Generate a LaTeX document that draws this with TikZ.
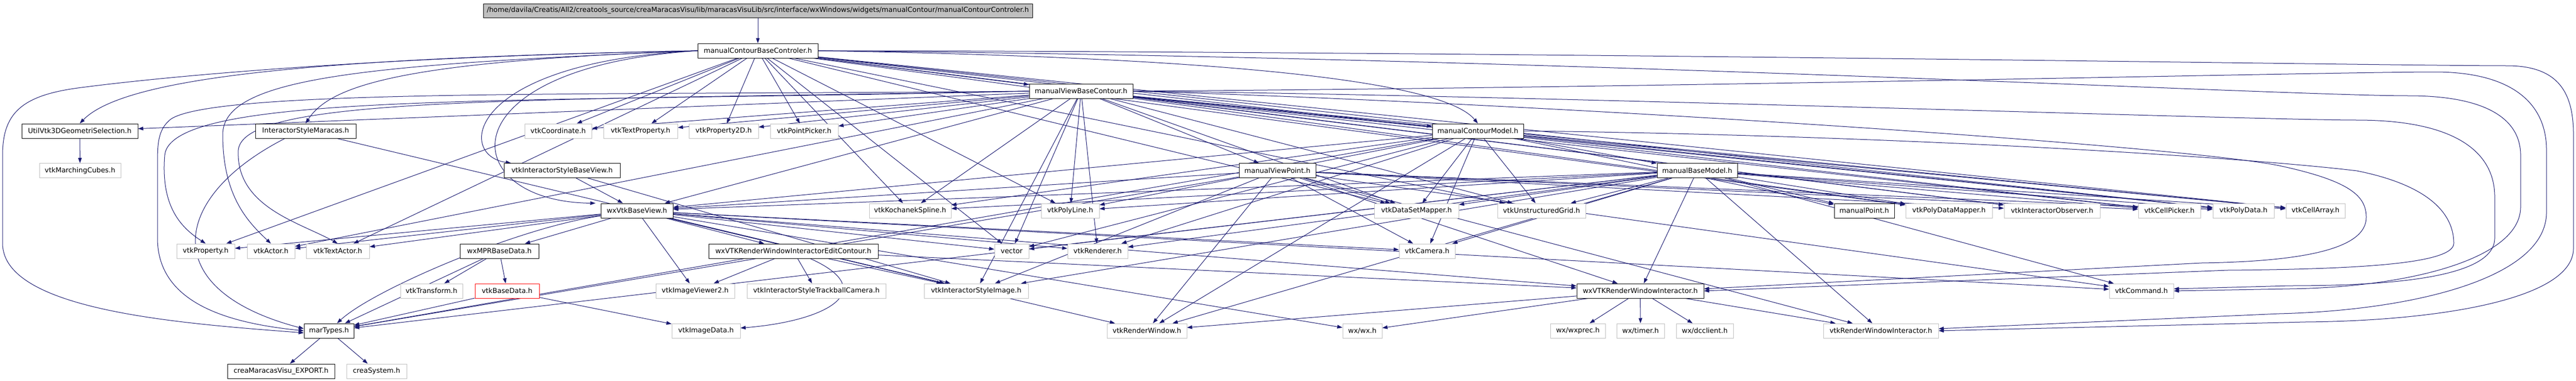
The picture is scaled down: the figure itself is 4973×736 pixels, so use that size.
\documentclass[tikz,border=0pt]{standalone}
\usepackage{fontspec}
\newfontfamily\dejavu{DejaVu Sans}
\usetikzlibrary{arrows.meta,backgrounds}
\definecolor{depblue}{HTML}{191970}
\definecolor{extgray}{HTML}{BFBFBF}
\tikzset{
  hdr/.style={draw=black, line width=1pt, fill=white, minimum height=28pt, inner sep=0pt,
    font=\dejavu\fontsize{13.33pt}{16pt}\selectfont},
  ext/.style={hdr, draw=extgray},
  bad/.style={hdr, draw=red},
  dep/.style={draw=depblue, line width=1pt, -{Triangle[length=10pt,width=7pt]}},
}
\begin{document}
\begin{tikzpicture}[x=1pt, y=-1pt]
    \useasboundingbox (0,0) rectangle (4973,736);

    \node[hdr, fill=extgray, minimum width=1060pt, minimum height=27pt] (title) at (1463,20.5)
      {/home/davila/Creatis/All2/creatools\_source/creaMaracasVisu/lib/maracasVisuLib/src/interface/wxWindows/widgets/manualContour/manualContourControler.h};
    \node[hdr, minimum width=232pt] (basectrl) at (1463,98) {manualContourBaseControler.h};
    \node[hdr, minimum width=200pt] (viewbase) at (2087,176) {manualViewBaseContour.h};

    \node[hdr, minimum width=224pt] (utilsel) at (154,253) {UtilVtk3DGeometriSelection.h};
    \node[hdr, minimum width=194pt] (stylemaracas) at (590,253) {InteractorStyleMaracas.h};
    \node[ext, minimum width=129pt] (coordinate) at (1077.5,253) {vtkCoordinate.h};
    \node[ext, minimum width=143pt] (textprop) at (1236.5,253) {vtkTextProperty.h};
    \node[ext, minimum width=134pt] (prop2d) at (1397,253) {vtkProperty2D.h};
    \node[ext, minimum width=131pt] (pointpicker) at (1552.5,253) {vtkPointPicker.h};
    \node[hdr, minimum width=176pt] (contourmodel) at (2853,253) {manualContourModel.h};

    \node[ext, minimum width=157pt] (marchcubes) at (154.5,329.5) {vtkMarchingCubes.h};
    \node[hdr, minimum width=224pt] (stylebaseview) at (1085,329.5) {vtkInteractorStyleBaseView.h};
    \node[hdr, minimum width=148pt] (viewpoint) at (2466,329.5) {manualViewPoint.h};
    \node[hdr, minimum width=155pt] (basemodel) at (3276.5,329.5) {manualBaseModel.h};

    \node[hdr, minimum width=139pt] (basevtk) at (1229.5,407) {wxVtkBaseView.h};
    \node[ext, minimum width=158pt] (kspline) at (1757,407) {vtkKochanekSpline.h};
    \node[ext, minimum width=112pt] (polyline) at (2066,407) {vtkPolyLine.h};
    \node[ext, minimum width=163pt] (dsmapper) at (2734.5,407) {vtkDataSetMapper.h};
    \node[ext, minimum width=170pt] (ugrid) at (2976,407) {vtkUnstructuredGrid.h};
    \node[hdr, minimum width=116pt] (point) at (3599,407) {manualPoint.h};
    \node[ext, minimum width=167pt] (pdmapper) at (3762.5,407) {vtkPolyDataMapper.h};
    \node[ext, minimum width=185pt] (iobserver) at (3961.5,407) {vtkInteractorObserver.h};
    \node[ext, minimum width=120pt] (cellpicker) at (4188,407) {vtkCellPicker.h};
    \node[ext, minimum width=118pt] (polydata) at (4331,407) {vtkPolyData.h};
    \node[ext, minimum width=114pt] (cellarray) at (4470,407) {vtkCellArray.h};

    \node[ext, minimum width=112pt] (property) at (397,485) {vtkProperty.h};
    \node[ext, minimum width=92pt] (actor) at (523,485) {vtkActor.h};
    \node[ext, minimum width=122pt] (textactor) at (652,485) {vtkTextActor.h};
    \node[hdr, minimum width=152pt] (mprdata) at (964,485) {wxMPRBaseData.h};
    \node[hdr, minimum width=327pt] (editctr) at (1531.5,485) {wxVTKRenderWindowInteractorEditContour.h};
    \node[ext, minimum width=66pt] (vector) at (1953,485) {vector};
    \node[ext, minimum width=116pt] (renderer) at (2119,485) {vtkRenderer.h};
    \node[ext, minimum width=108pt] (camera) at (2755,485) {vtkCamera.h};

    \node[ext, minimum width=120pt] (transform) at (833,562) {vtkTransform.h};
    \node[bad, minimum width=124pt] (basedata) at (979,562) {vtkBaseData.h};
    \node[ext, minimum width=152pt] (viewer2) at (1342,562) {vtkImageViewer2.h};
    \node[ext, minimum width=268pt] (trackball) at (1576,562) {vtkInteractorStyleTrackballCamera.h};
    \node[ext, minimum width=201pt] (styleimage) at (1884.5,562) {vtkInteractorStyleImage.h};
    \node[hdr, minimum width=245pt] (rwi) at (3166.5,562) {wxVTKRenderWindowInteractor.h};
    \node[ext, minimum width=124pt] (command) at (4134,562) {vtkCommand.h};

    \node[hdr, minimum width=96pt] (martypes) at (635,639) {marTypes.h};
    \node[ext, minimum width=132pt] (imagedata) at (1363,639) {vtkImageData.h};
    \node[ext, minimum width=154pt] (rwindow) at (2214,639) {vtkRenderWindow.h};
    \node[ext, minimum width=76pt] (wxh) at (2630,639) {wx/wx.h};
    \node[ext, minimum width=106pt] (wxprec) at (3046,639) {wx/wxprec.h};
    \node[ext, minimum width=92pt] (timer) at (3167,639) {wx/timer.h};
    \node[ext, minimum width=110pt] (dcclient) at (3291,639) {wx/dcclient.h};
    \node[ext, minimum width=222pt] (vtkrwi) at (3631,639) {vtkRenderWindowInteractor.h};

    \node[hdr, minimum width=207pt] (export) at (542.5,717) {creaMaracasVisu\_EXPORT.h};
    \node[ext, minimum width=116pt] (creasys) at (727,717) {creaSystem.h};

    \begin{scope}[on background layer]
    \draw[dep] (title) -- (basectrl);

    \foreach \t in {viewbase,coordinate,textprop,prop2d,pointpicker,property,textactor,kspline,polyline,vector,dsmapper,ugrid,pdmapper,iobserver,cellpicker,polydata,cellarray}
        \draw[dep] (basectrl) -- (\t);
    \foreach \t in {utilsel,coordinate,textprop,prop2d,pointpicker,contourmodel,viewpoint,basevtk,actor,kspline,polyline,vector,renderer,styleimage,dsmapper,ugrid,pdmapper,iobserver,cellpicker,polydata,cellarray}
        \draw[dep] (viewbase) -- (\t);
    \foreach \t in {basemodel,basevtk,kspline,polyline,vector,renderer,camera,dsmapper,ugrid,point,polydata,cellarray,rwindow,martypes}
        \draw[dep] (contourmodel) -- (\t);
    \foreach \t in {basevtk,dsmapper,camera,rwindow,rwi,iobserver,cellpicker,polydata,command,vtkrwi,styleimage,martypes}
        \draw[dep] (viewpoint) -- (\t);
    \foreach \t in {basevtk,kspline,polyline,vector,renderer,camera,dsmapper,ugrid,point,pdmapper,cellpicker,polydata,cellarray,styleimage,rwi,command,vtkrwi,rwindow,martypes}
        \draw[dep] (basemodel) -- (\t);
    \foreach \t in {property,actor,textactor,mprdata,editctr,viewer2,vector,renderer,camera,styleimage,rwindow,wxh,rwi,command}
        \draw[dep] (basevtk) -- (\t);
    \foreach \t in {basevtk,styleimage}
        \draw[dep] (stylebaseview) -- (\t);
    \foreach \t in {transform,basedata,martypes}
        \draw[dep] (mprdata) -- (\t);
    \foreach \t in {martypes,imagedata}
        \draw[dep] (basedata) -- (\t);
    \foreach \t in {trackball,viewer2,styleimage,rwi}
        \draw[dep] (editctr) -- (\t);
    \foreach \t in {wxprec,timer,dcclient,vtkrwi,rwindow,wxh}
        \draw[dep] (rwi) -- (\t);
    \foreach \t in {export,creasys}
        \draw[dep] (martypes) -- (\t);
    \draw[dep] (utilsel) -- (marchcubes);
    \draw[dep] (stylemaracas) -- (styleimage);

    % round the left side
    \draw[dep] (basectrl.west) .. controls (600,112) and (240,150) .. (utilsel.north);
    \draw[dep] (basectrl.west) .. controls (800,118) and (640,160) .. (stylemaracas.north);
    \draw[dep] (basectrl.west) .. controls (900,120) and (880,300) .. ([xshift=14pt]stylebaseview.north west);
    \draw[dep] (basectrl.west) .. controls (850,130) and (880,390) .. ([xshift=-10pt]basevtk.north west);
    \draw[dep] (basectrl.west) .. controls (700,125) and (430,150) .. (430,260)
        .. controls (430,380) and (480,430) .. (actor.north);
    \draw[dep] (basectrl.west) .. controls (700,110) and (300,150) .. (150,170)
        .. controls (40,185) and (5,220) .. (5,300) -- (5,470)
        .. controls (5,600) and (350,625) .. ([yshift=-4pt]martypes.west);
    \draw[dep] (viewbase.west) .. controls (1200,185) and (420,170) .. (330,230)
        .. controls (304,250) and (304,280) .. (304,320) -- (304,460)
        .. controls (304,590) and (450,625) .. (martypes.west);
    \draw[dep] (viewbase.west) .. controls (1000,200) and (330,175) .. (318,300)
        .. controls (310,400) and (350,440) .. (property.north);
    \draw[dep] (viewbase.west) .. controls (1000,195) and (470,185) .. (460,290)
        .. controls (455,400) and (580,430) .. (textactor.north);
    \draw[dep] ([xshift=-40pt]stylemaracas.south) .. controls (330,380) and (300,560) .. ([yshift=4pt]martypes.west);
    \draw[dep] (basevtk) .. controls (1000,440) and (720,560) .. (martypes);
    \draw[dep] (editctr) .. controls (1700,560) and (1600,620) .. (imagedata);
    \draw[dep] (basectrl.east) .. controls (2300,110) and (2780,150) .. (contourmodel.north);

    % round the right side
    \draw[dep] (basectrl.east) .. controls (3000,100) and (4600,127) .. (4840,127)
        .. controls (4940,127) and (4968,180) .. (4968,260) -- (4968,480)
        .. controls (4968,580) and (4700,620) .. (4450,622) -- (vtkrwi.east);
    \draw[dep] (viewbase.east) .. controls (3200,170) and (4500,139) .. (4700,139)
        .. controls (4850,139) and (4916,200) .. (4916,290) -- (4916,410)
        .. controls (4916,540) and (4650,600) .. (4400,606) -- ([yshift=4pt]vtkrwi.east);
    \draw[dep] (basectrl.east) .. controls (3000,110) and (4400,185) .. (4650,185)
        .. controls (4800,185) and (4866,230) .. (4866,300) -- (4866,400)
        .. controls (4866,500) and (4650,555) .. (4420,558) -- (command.east);
    \draw[dep] (viewbase.east) .. controls (3000,185) and (4350,232) .. (4550,232)
        .. controls (4750,232) and (4816,300) .. (4816,380) -- (4816,460)
        .. controls (4816,530) and (4650,552) .. (4420,552) -- ([yshift=4pt]command.east);
    \draw[dep] (contourmodel.east) .. controls (3600,260) and (4300,300) .. (4550,330)
        .. controls (4700,360) and (4737,420) .. (4737,470)
        .. controls (4737,510) and (4550,520) .. (4300,522) -- (rwi.east);
    \draw[dep] (viewbase.east) .. controls (3000,200) and (4200,280) .. (4400,320)
        .. controls (4540,350) and (4568,380) .. (4568,420)
        .. controls (4568,480) and (4450,505) .. (4250,508) -- ([yshift=4pt]rwi.east);
    \end{scope}
\end{tikzpicture}
\end{document}
